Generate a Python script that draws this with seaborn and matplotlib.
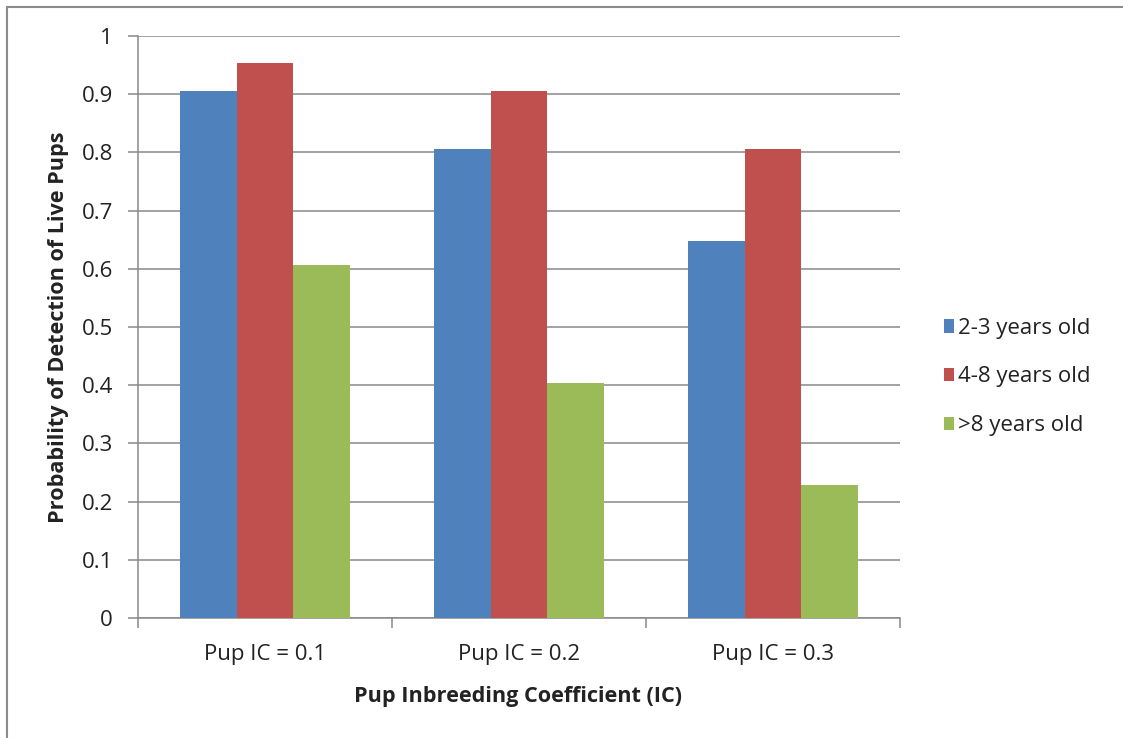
import matplotlib
matplotlib.use("Agg")
import matplotlib.pyplot as plt
from matplotlib.patches import Rectangle, Patch
import numpy as np
import pandas as pd
import seaborn as sns

groups = ["Pup IC = 0.1", "Pup IC = 0.2", "Pup IC = 0.3"]
age_classes = ["2-3 years old", "4-8 years old", ">8 years old"]
young = [0.905, 0.806, 0.648]
prime = [0.954, 0.905, 0.806]
old = [0.607, 0.404, 0.229]
colors = ["#4F81BD", "#C0504D", "#9BBB59"]
y_ticks = [0, 0.1, 0.2, 0.3, 0.4, 0.5, 0.6, 0.7, 0.8, 0.9, 1]
y_tick_labels = ["0", "0.1", "0.2", "0.3", "0.4", "0.5", "0.6", "0.7", "0.8", "0.9", "1"]

df = pd.DataFrame({
    "group": groups * 3,
    "age": [age_classes[0]] * 3 + [age_classes[1]] * 3 + [age_classes[2]] * 3,
    "prob": young + prime + old,
})

sns.set_theme(style="white")
plt.rcParams["font.family"] = ["Open Sans", "DejaVu Sans"]

FS = 16
FS_B = 15.6
TXT = "#222222"
W, H = 1123, 738

fig = plt.figure(figsize=(W / 100, H / 100), dpi=100)
ax = fig.add_axes([138 / W, 120 / H, 762 / W, 582 / H])

grid_c = "#898989"
sns.barplot(data=df, x="group", y="prob", hue="age", order=groups,
            hue_order=age_classes, palette=colors, width=2 / 3, gap=0,
            saturation=1, linewidth=0, legend=False, ax=ax, zorder=3)

ax.set_xlim(-0.5, 2.5)
ax.set_ylim(0, 1)
ax.set_yticks(y_ticks)
ax.set_yticklabels(y_tick_labels)
ax.yaxis.grid(True, color=grid_c, linewidth=1.1, zorder=0)
ax.set_axisbelow(True)
for s in ["top", "right"]:
    ax.spines[s].set_visible(False)
for s in ["left", "bottom"]:
    ax.spines[s].set_color(grid_c)
    ax.spines[s].set_linewidth(1.1)

ax.tick_params(axis="y", which="major", length=7, width=1.1, color=grid_c,
               labelsize=FS, labelcolor=TXT, pad=11, left=True)
ax.tick_params(axis="x", which="major", length=0, labelsize=FS,
               labelcolor=TXT, pad=19)
ax.set_xticks([-0.5, 0.5, 1.5, 2.5], minor=True)
ax.tick_params(axis="x", which="minor", length=7, width=1.1, color=grid_c,
               bottom=True)

ax.set_xlabel("Pup Inbreeding Coefficient (IC)", fontsize=FS_B,
              fontweight="bold", color=TXT)
ax.set_ylabel("Probability of Detection of Live Pups", fontsize=FS_B,
              fontweight="bold", color=TXT)
ax.xaxis.set_label_coords((518 - 138) / 762, (618 - 686) / 582)
ax.yaxis.set_label_coords((69 - 138) / 762, (618 - 327) / 582)

handles = [Patch(facecolor=c, edgecolor="none") for c in colors]
fig.legend(handles, age_classes, loc="center left",
           bbox_to_anchor=(924 / W, 1 - 377 / H), frameon=False,
           fontsize=FS, handlelength=0.45, handleheight=0.55,
           handletextpad=0.2, labelspacing=1.25, labelcolor=TXT)

# chart area border (continues past the right and bottom edges)
fig.patches.append(Rectangle((7 / W, -0.05), 1.1, 1.05 - 7 / H,
                             transform=fig.transFigure, fill=False,
                             edgecolor="#8c8c8c", linewidth=1.5))

fig.savefig("out.png", dpi=100, facecolor="white")
